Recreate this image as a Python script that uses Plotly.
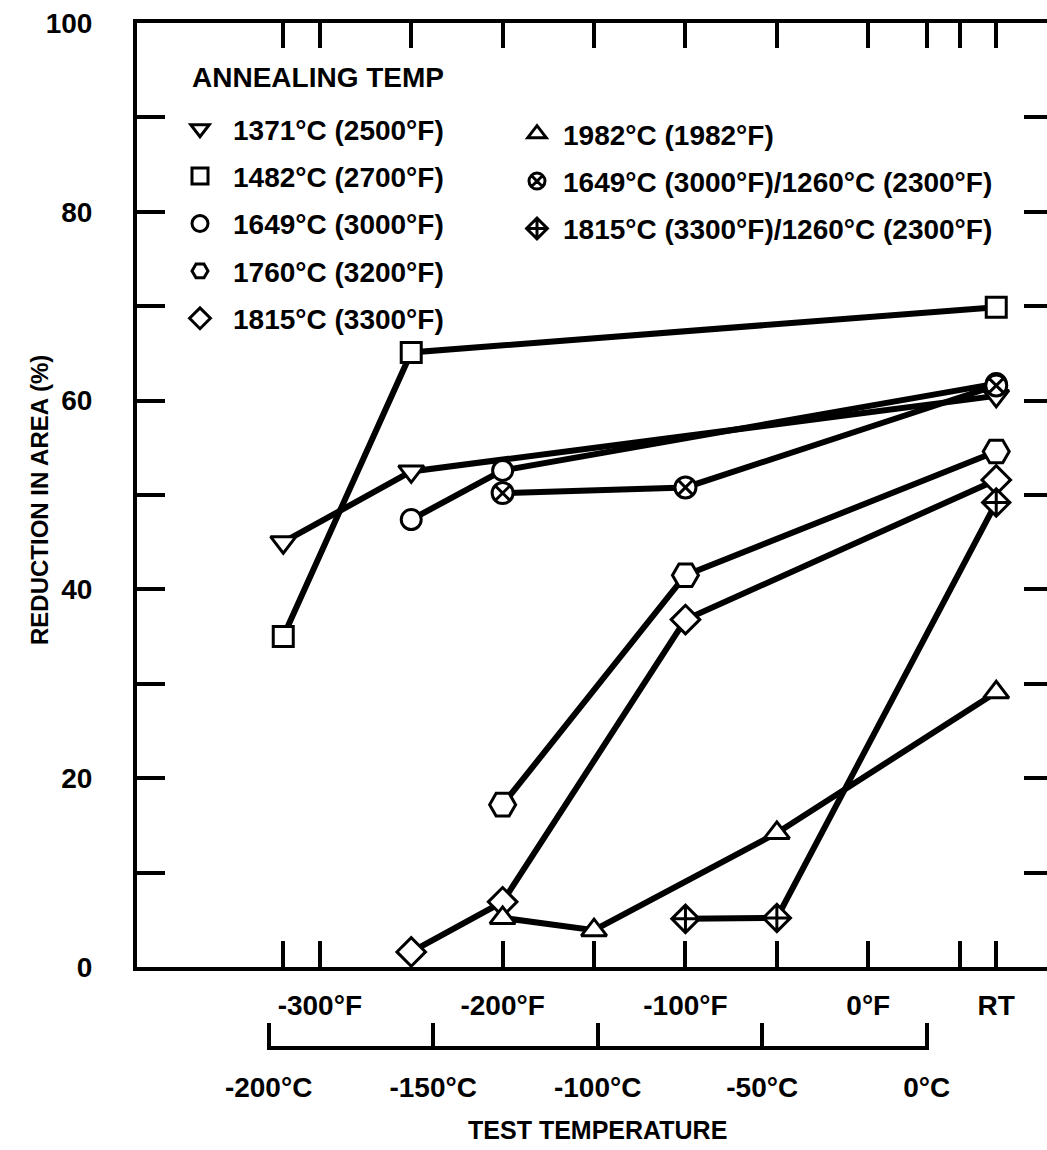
import plotly.graph_objects as go

# ---------------- data (test temperature in deg F; RT plotted at 70 F) ----------------
names = [
    "1371°C (2500°F)",
    "1482°C (2700°F)",
    "1649°C (3000°F)",
    "1760°C (3200°F)",
    "1815°C (3300°F)",
    "1982°C (1982°F)",
    "1649°C (3000°F)/1260°C (2300°F)",
    "1815°C (3300°F)/1260°C (2300°F)",
]
symbols = ["triangle-down", "square", "circle", "hexagon2", "diamond",
           "triangle-up", "circle-x", "diamond-cross"]
sizes = [22, 20, 20, 26, 22, 22, 21, 21]
legend_of = ["legend", "legend", "legend", "legend", "legend",
             "legend2", "legend2", "legend2"]

t_1371 = [-320, -250, 70]
ra_1371 = [45.0, 52.5, 60.5]
t_1482 = [-320, -250, 70]
ra_1482 = [35.0, 65.1, 69.9]
t_1649 = [-250, -200, 70]
ra_1649 = [47.4, 52.6, 61.8]
t_1760 = [-200, -100, 70]
ra_1760 = [17.2, 41.5, 54.6]
t_1815 = [-250, -200, -100, 70]
ra_1815 = [1.6, 6.9, 36.8, 51.6]
t_1982 = [-200, -150, -50, 70]
ra_1982 = [5.2, 3.9, 14.2, 29.1]
t_1649_1260 = [-200, -100, 70]
ra_1649_1260 = [50.2, 50.8, 61.6]
t_1815_1260 = [-100, -50, 70]
ra_1815_1260 = [5.1, 5.2, 49.2]

temps = [t_1371, t_1482, t_1649, t_1760, t_1815, t_1982, t_1649_1260, t_1815_1260]
reds = [ra_1371, ra_1482, ra_1649, ra_1760, ra_1815, ra_1982, ra_1649_1260, ra_1815_1260]

# axis ticks / labels
x_range_F = [-400, 100.5]
bottom_ticks_F = [-320, -300, -200, -150, -100, -50, 0, 50, 70]
bottom_text_F = ["", "-300°F", "-200°F", "", "-100°F", "", "0°F", "", "RT"]
top_ticks_F = [-320, -300, -250, -200, -150, -100, -50, 0, 32, 50, 70]
ticks_C = [-200, -150, -100, -50, 0]
text_C = ["-200°C", "-150°C", "-100°C", "-50°C", "0°C"]
y_ticks = [0, 10, 20, 30, 40, 50, 60, 70, 80, 90, 100]
y_text = ["0", "", "20", "", "40", "", "60", "", "80", "", "100"]

# ---------------- figure ----------------
W, H = 1052, 1150
FONT = "Liberation Sans, Arial, sans-serif"
ml, mr, mt, mb = 137, 0, 23, 102
plot_w = W - ml - mr
plot_h = H - mt - mb
y0_px = 967  # pixel row of the 0 % line
y_dom0 = ((H - mb) - y0_px) / plot_h


def px_x(px):
    return (px - ml) / plot_w


def px_y(py):
    return ((H - mb) - py) / plot_h


def f_to_frac(f):
    return (f - x_range_F[0]) / (x_range_F[1] - x_range_F[0])


c_range = [ticks_C[0] - 0.6, ticks_C[-1] + 0.6]
c_dom = [f_to_frac(c_range[0] * 1.8 + 32), f_to_frac(c_range[1] * 1.8 + 32)]

fig = go.Figure()

# lines first
for t, r in zip(temps, reds):
    fig.add_trace(go.Scatter(x=t, y=r, mode="lines",
                             line=dict(color="black", width=6),
                             showlegend=False, hoverinfo="skip"))
# markers on top (also the legend entries)
for i, (t, r) in enumerate(zip(temps, reds)):
    fig.add_trace(go.Scatter(
        x=t, y=r, mode="markers", name=names[i],
        legend=legend_of[i], legendgroup="g%d" % i,
        marker=dict(symbol=symbols[i], size=sizes[i], color="white",
                    line=dict(color="black", width=3)),
    ))

# empty traces that bring in the top axis and the Celsius axis
fig.add_trace(go.Scatter(x=[None], y=[None], xaxis="x2", yaxis="y",
                         showlegend=False, hoverinfo="skip"))
fig.add_trace(go.Scatter(x=[None], y=[None], xaxis="x3", yaxis="y",
                         showlegend=False, hoverinfo="skip"))

axis_common = dict(showgrid=False, zeroline=False, color="black",
                   linecolor="black", tickcolor="black", automargin=False)

fig.update_layout(
    width=W, height=H,
    margin=dict(l=ml, r=mr, t=mt, b=mb, autoexpand=False),
    paper_bgcolor="white", plot_bgcolor="rgba(0,0,0,0)",
    font=dict(family=FONT, size=28, color="black", weight="bold"),
    xaxis=dict(range=x_range_F, domain=[0, 1], tickmode="array", tickvals=bottom_ticks_F,
               ticktext=bottom_text_F, ticks="inside", ticklen=26, tickwidth=3.5,
               showline=True, linewidth=4, anchor="y", mirror=False,
               ticklabelstandoff=10, **axis_common),
    xaxis2=dict(range=x_range_F, overlaying="x", side="top", anchor="y",
                tickmode="array", tickvals=top_ticks_F, showticklabels=False,
                ticks="inside", ticklen=25, tickwidth=3.5,
                showline=True, linewidth=4, **axis_common),
    xaxis3=dict(range=c_range, domain=c_dom, anchor="free",
                position=0, tickmode="array", tickvals=ticks_C, ticktext=text_C,
                ticks="inside", ticklen=23, tickwidth=3.5, showline=True,
                linewidth=3.5, ticklabelstandoff=14,
                title=dict(text="TEST TEMPERATURE", font=dict(size=25), standoff=18),
                **axis_common),
    yaxis=dict(range=[0, 100], domain=[y_dom0, 1], tickmode="array",
               tickvals=y_ticks, ticktext=y_text, ticks="inside", ticklen=28,
               tickwidth=3.5, showline=True, linewidth=4, mirror="ticks",
               anchor="x", ticklabelstandoff=35, **axis_common),
    legend=dict(x=px_x(167), y=px_y(104),
                xanchor="left", yanchor="top", itemwidth=56, tracegroupgap=8,
                bgcolor="rgba(0,0,0,0)", font=dict(size=28), itemclick=False),
    legend2=dict(x=px_x(511), y=px_y(109),
                 xanchor="left", yanchor="top", itemwidth=42, tracegroupgap=8,
                 bgcolor="rgba(0,0,0,0)", font=dict(size=28), itemclick=False),
    annotations=[
        dict(text="ANNEALING TEMP", xref="paper", yref="paper",
             x=px_x(190), y=px_y(77), xanchor="left", yanchor="middle",
             showarrow=False, font=dict(size=28)),
        dict(text="REDUCTION IN AREA (%)", xref="paper", yref="paper",
             x=px_x(40), y=px_y(500), xanchor="center", yanchor="middle",
             textangle=-90, showarrow=False, font=dict(size=24)),
    ],
    showlegend=True,
)

fig.write_html("out.html", config={"displayModeBar": False},
               post_script="document.body.style.margin='0';document.body.style.overflow='hidden';")
